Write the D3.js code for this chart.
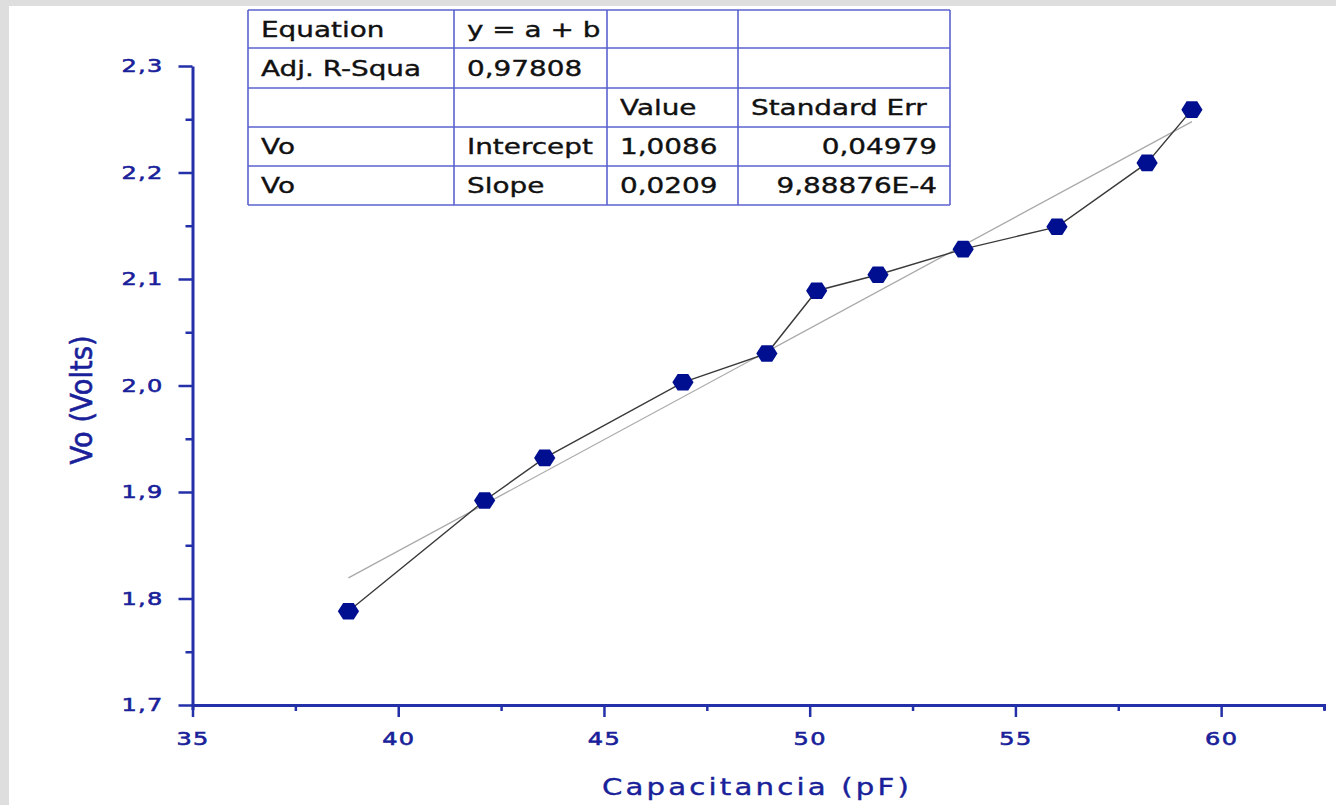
<!DOCTYPE html>
<html>
<head>
<meta charset="utf-8">
<script src="https://cdn.jsdelivr.net/npm/d3@7"></script>
<style>
  body { margin: 0; background: #dedede; }
  svg { display: block; }
</style>
</head>
<body>
<div id="chart"></div>
<script>
// measured points, Vo vs capacitance
const capacitance = [38.79, 42.10, 43.56, 46.92, 48.96, 50.17, 51.66, 53.73, 56.01, 58.20, 59.29];
const voltage = [1.788, 1.892, 1.932, 2.003, 2.030, 2.089, 2.104, 2.128, 2.149, 2.209, 2.259];

// linear fit (from the table)
const fitIntercept = 1.0086;
const fitSlope = 0.0209;

const xTicks = [35, 40, 45, 50, 55, 60];
const xMinorTicks = [37.5, 42.5, 47.5, 52.5, 57.5, 62.5];
const yTicks = [1.7, 1.8, 1.9, 2.0, 2.1, 2.2, 2.3];
const yMinorTicks = [1.75, 1.85, 1.95, 2.05, 2.15, 2.25];

const tableRows = [
    ['Equation', 'y = a + b', '', ''],
    ['Adj. R-Squa', '0,97808', '', ''],
    ['', '', 'Value', 'Standard Err'],
    ['Vo', 'Intercept', '1,0086', '0,04979'],
    ['Vo', 'Slope', '0,0209', '9,88876E-4']
];

const xLabel = 'Capacitancia (pF)';
const yLabel = 'Vo (Volts)';

const width = 1336, height = 805;
const axisColor = '#2330a8';
const labelColor = '#1a1f9a';
const pointColor = '#000f8f';
const stretch = 1.3;   // reference text is drawn wide

const svg = d3.select('#chart').append('svg')
    .attr('width', width)
    .attr('height', height);

svg.append('rect')
    .attr('x', 9).attr('y', 6)
    .attr('width', width - 9).attr('height', height - 6)
    .attr('fill', '#ffffff');

const x = d3.scaleLinear().domain([35, 62.5]).range([192.5, 1324]);
const y = d3.scaleLinear().domain([1.7, 2.3]).range([705, 66]);

const comma = f => v => f(v).replace('.', ',');

// widen axis text around its anchor point
function widen(sel, sx) {
    sel.each(function() {
        const t = d3.select(this);
        const tx = +t.attr('x') || 0;
        const ty = +t.attr('y') || 0;
        t.attr('x', 0).attr('y', 0)
            .attr('transform', `translate(${tx},${ty}) scale(${sx},1)`);
    });
}

function tickText(sel) {
    sel.attr('fill', labelColor)
        .attr('stroke', labelColor)
        .attr('stroke-width', 0.6)
        .style('font-family', 'DejaVu Sans')
        .style('font-size', '18.5px')
        .style('letter-spacing', '1px')
        .call(widen, stretch);
}

// minor ticks first
svg.append('g')
    .attr('transform', `translate(0,${y(1.7)})`)
    .call(d3.axisBottom(x).tickValues(xMinorTicks).tickSize(6).tickSizeOuter(0).tickFormat(''))
    .call(g => g.select('.domain').remove())
    .call(g => g.selectAll('line').attr('stroke', axisColor).attr('stroke-width', 2.5));

svg.append('g')
    .attr('transform', `translate(${x(35)},0)`)
    .call(d3.axisLeft(y).tickValues(yMinorTicks).tickSize(7).tickSizeOuter(0).tickFormat(''))
    .call(g => g.select('.domain').remove())
    .call(g => g.selectAll('line').attr('stroke', axisColor).attr('stroke-width', 2.5));

// x axis
const xAxis = svg.append('g')
    .attr('transform', `translate(0,${y(1.7)})`)
    .call(d3.axisBottom(x).tickValues(xTicks).tickSize(12).tickSizeOuter(5).tickPadding(15)
        .tickFormat(d3.format('d')));
xAxis.select('.domain').attr('stroke', axisColor).attr('stroke-width', 3);
xAxis.selectAll('line').attr('stroke', axisColor).attr('stroke-width', 2.5);
xAxis.selectAll('text').call(tickText);

// y axis
const yAxis = svg.append('g')
    .attr('transform', `translate(${x(35)},0)`)
    .call(d3.axisLeft(y).tickValues(yTicks).tickSize(14).tickSizeOuter(0).tickPadding(15)
        .tickFormat(comma(d3.format('.1f'))));
yAxis.select('.domain').attr('stroke', axisColor).attr('stroke-width', 3);
yAxis.selectAll('line').attr('stroke', axisColor).attr('stroke-width', 2.5);
yAxis.selectAll('text').call(tickText);

// axis titles
svg.append('text')
    .attr('transform', `translate(757,795) scale(1.27,1)`)
    .attr('text-anchor', 'middle')
    .attr('fill', labelColor)
    .attr('stroke', labelColor)
    .attr('stroke-width', 0.4)
    .style('font-family', 'DejaVu Sans')
    .style('font-size', '23px')
    .style('letter-spacing', '2.5px')
    .text(xLabel);

svg.append('text')
    .attr('transform', `translate(92,400) rotate(-90) scale(1.14,1.28)`)
    .attr('text-anchor', 'middle')
    .attr('fill', labelColor)
    .attr('stroke', labelColor)
    .attr('stroke-width', 0.5)
    .style('font-family', 'DejaVu Sans')
    .style('font-size', '24px')
    .text(yLabel);

// fit line over the data range
const xExtent = d3.extent(capacitance);
const fitLine = xExtent.map(c => [c, fitIntercept + fitSlope * c]);
svg.append('path')
    .datum(fitLine)
    .attr('fill', 'none')
    .attr('stroke', '#a9a9a9')
    .attr('stroke-width', 1.3)
    .attr('d', d3.line().x(d => x(d[0])).y(d => y(d[1])));

// data line + markers
const points = capacitance.map((c, i) => ({ c: c, v: voltage[i] }));

svg.append('path')
    .datum(points)
    .attr('fill', 'none')
    .attr('stroke', '#3a3a3a')
    .attr('stroke-width', 1.4)
    .attr('d', d3.line().x(d => x(d.c)).y(d => y(d.v)));

const hexagon = {
    draw(context, size) {
        const r = Math.sqrt(size / (1.5 * Math.sqrt(3)));
        for (let i = 0; i < 6; i++) {
            const a = i * Math.PI / 3;
            const px = r * Math.cos(a), py = r * Math.sin(a);
            if (i === 0) context.moveTo(px, py); else context.lineTo(px, py);
        }
        context.closePath();
    }
};

svg.append('g')
    .selectAll('path')
    .data(points)
    .enter()
    .append('path')
    .attr('transform', d => `translate(${x(d.c)},${y(d.v)}) scale(1.05,0.95)`)
    .attr('d', d3.symbol().type(hexagon).size(265))
    .attr('fill', pointColor);

// fit results table
const colX = [248, 454, 607, 738, 950];
const rowY = [10, 48, 88, 127, 166, 205];

const table = svg.append('g');
table.append('rect')
    .attr('x', colX[0]).attr('y', rowY[0])
    .attr('width', colX[4] - colX[0]).attr('height', rowY[5] - rowY[0])
    .attr('fill', '#ffffff');

rowY.forEach(ry => {
    table.append('line')
        .attr('x1', colX[0]).attr('x2', colX[4])
        .attr('y1', ry).attr('y2', ry)
        .attr('stroke', '#5b62cf').attr('stroke-width', 1.6);
});
colX.forEach(cx => {
    table.append('line')
        .attr('x1', cx).attr('x2', cx)
        .attr('y1', rowY[0]).attr('y2', rowY[5])
        .attr('stroke', '#5b62cf').attr('stroke-width', 1.6);
});

tableRows.forEach((row, r) => {
    row.forEach((cell, c) => {
        if (!cell) return;
        const rightAlign = c === 3 && r > 2;
        const tx = rightAlign ? colX[c + 1] - 13 : colX[c] + 13;
        const ty = (rowY[r] + rowY[r + 1]) / 2 + 7.5;
        table.append('text')
            .attr('transform', `translate(${tx},${ty}) scale(1.36,1)`)
            .attr('text-anchor', rightAlign ? 'end' : 'start')
            .attr('fill', '#111111')
            .attr('stroke', '#111111')
            .attr('stroke-width', 0.35)
            .style('font-family', 'DejaVu Sans')
            .style('font-size', '20.5px')
            .text(cell);
    });
});
</script>
</body>
</html>
